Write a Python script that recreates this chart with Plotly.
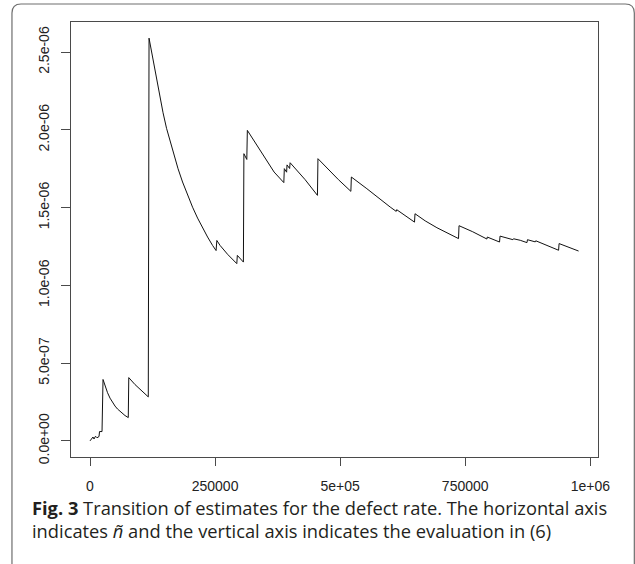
import plotly.graph_objects as go

# ---- data ----
n_tilde = [0, 3000, 6000, 8000, 11000, 14000, 18000, 19000, 24000, 26000,
           30000, 35000, 40000, 45000, 50000, 55000, 60000, 65000, 70000, 76500,
           77500, 90000, 100000, 110000, 116500,
           118000, 122000, 126000, 130000, 135000, 140000, 146000, 153000, 160000, 168000,
           176000, 185000, 195000, 205000, 215000, 225000, 235000, 245000, 252000,
           253500, 260000, 275000, 293400, 294500, 306600,
           307600, 313400, 314500, 333400, 350000, 364600, 368000, 387400,
           388400, 393000, 393800, 399000, 400000, 430000, 454600,
           455600, 475000, 496600, 521400, 522400, 553400, 575000, 600000, 612000,
           613000, 648600, 649600, 670000, 693400, 736600, 737600, 765000, 793400,
           794000, 818600, 819600, 845400, 846500, 860000, 873400, 874400, 890000,
           891000, 936600, 937600, 976600]
rate_e6 = [0.000, 0.013, 0.025, 0.012, 0.030, 0.020, 0.028, 0.060, 0.060, 0.395,
           0.355, 0.310, 0.275, 0.247, 0.224, 0.205, 0.189, 0.175, 0.163, 0.150,
           0.407, 0.362, 0.330, 0.302, 0.283,
           2.590, 2.520, 2.440, 2.370, 2.280, 2.200, 2.110, 2.010, 1.925, 1.833,
           1.750, 1.665, 1.580, 1.503, 1.433, 1.369, 1.311, 1.257, 1.224,
           1.289, 1.257, 1.200, 1.140, 1.193, 1.150,
           1.847, 1.810, 1.997, 1.900, 1.815, 1.740, 1.729, 1.661,
           1.751, 1.728, 1.775, 1.752, 1.789, 1.680, 1.579,
           1.815, 1.750, 1.680, 1.605, 1.697, 1.622, 1.565, 1.504, 1.476,
           1.487, 1.407, 1.461, 1.415, 1.371, 1.301, 1.384, 1.345, 1.298,
           1.311, 1.279, 1.317, 1.294, 1.300, 1.290, 1.275, 1.294, 1.280,
           1.287, 1.226, 1.269, 1.221]

x_tickvals = [0, 250000, 500000, 750000, 1000000]
x_ticktext = ["0", "250000", "5e+05", "750000", "1e+06"]
y_tickvals = [0, 5e-7, 1e-6, 1.5e-6, 2e-6, 2.5e-6]
y_ticktext = ["0.0e+00", "5.0e-07", "1.0e-06", "1.5e-06", "2.0e-06", "2.5e-06"]

caption_bold = "Fig. 3"
caption_line1 = " Transition of estimates for the defect rate. The horizontal axis"
caption_line2 = "indicates <i>ñ</i> and the vertical axis indicates the evaluation in (6)"

# ---- layout geometry (pixels) ----
W, H = 635, 564
L, R, T, B = 71, 597.7, 22, 456.7


def px(x):
    return (x - L) / (R - L)


def py(y):
    return (B - y) / (B - T)


fig = go.Figure()
fig.add_trace(go.Scatter(
    x=n_tilde, y=[v * 1e-6 for v in rate_e6], mode="lines",
    line=dict(color="#111111", width=1), showlegend=False, hoverinfo="skip"))

axis_color = "#4a4a4a"
tick_font = dict(family="Liberation Sans, Arial, sans-serif", size=14, color="#222222")

fig.update_xaxes(range=[-38000, 1015400], showgrid=False, zeroline=False,
                 showline=True, mirror=True, linecolor=axis_color, linewidth=1,
                 ticks="outside", ticklen=8, tickcolor=axis_color, tickwidth=1,
                 tickvals=x_tickvals, ticktext=x_ticktext, tickfont=tick_font,
                 ticklabelstandoff=8)
fig.update_yaxes(range=[-1.036e-7, 2.694e-6], showgrid=False, zeroline=False,
                 showline=True, mirror=True, linecolor=axis_color, linewidth=1,
                 ticks="outside", ticklen=9, tickcolor=axis_color, tickwidth=1,
                 tickvals=y_tickvals, ticktext=y_ticktext, tickfont=tick_font,
                 tickangle=-90, ticklabelstandoff=6)

# outer rounded frame
r = 9
x0, y0, x1, y1 = 12, 4, 634, 620
path = (f"M {px(x0)},{py(y1)} L {px(x0)},{py(y0 + r)} "
        f"Q {px(x0)},{py(y0)} {px(x0 + r)},{py(y0)} "
        f"L {px(x1 - r)},{py(y0)} Q {px(x1)},{py(y0)} {px(x1)},{py(y0 + r)} "
        f"L {px(x1)},{py(y1)}")
fig.add_shape(type="path", path=path, xref="paper", yref="paper",
              line=dict(color="#6e6e6e", width=1.2), layer="above")

cap_font = dict(family="Open Sans, Noto Sans, sans-serif", size=18.3, color="#231f20")
fig.add_annotation(x=px(30), y=py(507), xref="paper", yref="paper",
                   xanchor="left", yanchor="middle", showarrow=False,
                   text=f"<b>{caption_bold}</b>{caption_line1}", font=cap_font)
fig.add_annotation(x=px(30), y=py(530), xref="paper", yref="paper",
                   xanchor="left", yanchor="middle", showarrow=False,
                   text=caption_line2, font=cap_font)

fig.update_layout(width=W, height=H, autosize=False,
                  margin=dict(l=L, r=W - R, t=T, b=H - B, pad=0),
                  paper_bgcolor="white", plot_bgcolor="white")

fig.write_html("out.html")
